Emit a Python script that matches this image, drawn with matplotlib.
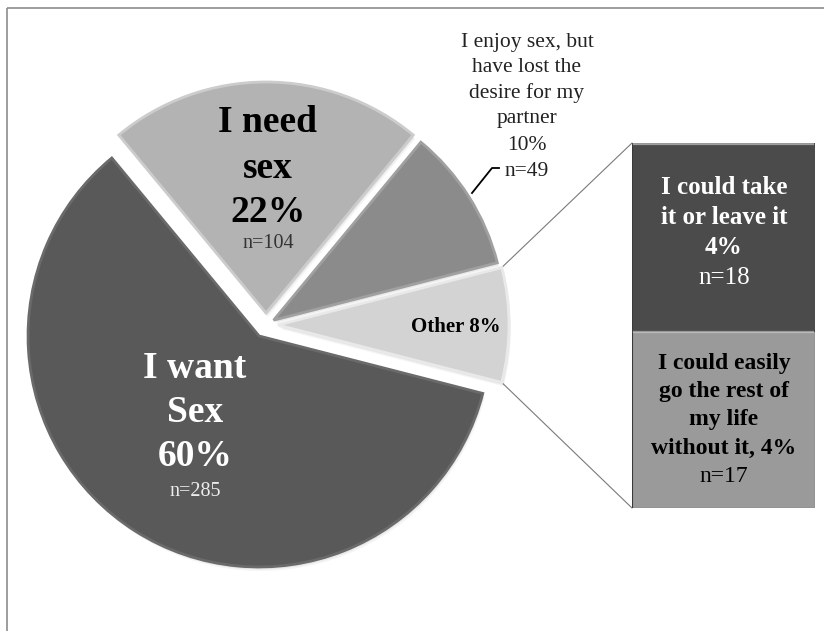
import numpy as np
import matplotlib
matplotlib.use("Agg")
import matplotlib.pyplot as plt
from matplotlib.patches import Wedge, ConnectionPatch

plt.rcParams['font.family'] = ['Liberation Serif', 'DejaVu Serif']

# survey answers (percent of respondents and counts)
slices = ["Other", "I want Sex", "I need sex", "I enjoy sex, but have lost the desire for my partner"]
shares = [8, 60, 22, 10]
counts = [35, 285, 104, 49]
slice_colors = ['#d3d3d3', '#595959', '#b3b3b3', '#8b8b8b']
edge_colors = ['#e9e9e9', '#6a6a6a', '#cccccc', '#a0a0a0']

# the "Other" slice split out into the bar
other_labels = ["I could easily go the rest of my life without it", "I could take it or leave it"]
other_pct = [4, 4]
other_n = [17, 18]
bar_colors = ['#9a9a9a', '#4b4b4b']

W, H = 824, 631
fig = plt.figure(figsize=(W / 100, H / 100), dpi=100)
ax = fig.add_axes([0, 0, 1, 1])
ax.set_zorder(2)


def py(y):
    # pixel row (top down) -> axis y
    return H - y


# outer chart border, only left and top edges fall inside the image
ax.plot([7, 7], [py(8), -10], color='#8c8c8c', lw=1.2, solid_capstyle='butt')
ax.plot([7, W + 10], [py(8), py(8)], color='#8c8c8c', lw=1.2, solid_capstyle='butt')

explode = [12, 13, 12, 9]   # offsets in pixels
center = (266, py(325))
radius = 231

# soft shadow under the pie
start = 14.4
a = start
for frac, ex in zip(shares, explode):
    th1, th2 = a - frac * 3.6, a
    mid = np.deg2rad((th1 + th2) / 2)
    cx = center[0] + ex * np.cos(mid)
    cy = center[1] + ex * np.sin(mid)
    for k, al in [(4, 0.04), (2.5, 0.05), (1.2, 0.06)]:
        ax.add_patch(Wedge((cx + k * 0.5, cy - k), radius, th1, th2,
                           color='black', alpha=al, lw=0))
    a = th1

wedges, _ = ax.pie(shares, explode=explode, colors=slice_colors,
                   startangle=start, counterclock=False,
                   radius=radius, center=center,
                   wedgeprops=dict(linewidth=2.0))
for w, ec in zip(wedges, edge_colors):
    w.set_edgecolor(ec)

ax.set_xlim(0, W)
ax.set_ylim(0, H)
ax.set_aspect('equal')
ax.axis('off')


def stack(x, ys, lines, **kw):
    for y, s in zip(ys, lines):
        ax.text(x, py(y), s, ha='center', va='center', **kw)


# I want Sex
stack(195, [368, 413, 456], ["I want", "Sex", f"{shares[1]}%"],
      fontsize=27, fontweight='bold', color='white')
stack(195, [491], [f"n={counts[1]}"], fontsize=14.5, color='#ececec')

# I need sex
stack(268, [122, 168, 212], ["I need", "sex", f"{shares[2]}%"],
      fontsize=27, fontweight='bold', color='black')
stack(268, [243], [f"n={counts[2]}"], fontsize=14.5, color='#333333')

# I enjoy sex ... label sits outside the pie with a leader line
stack(527, [42, 67, 93, 118, 146, 171],
      ["I enjoy sex, but", "have lost the", "desire for my", "partner",
       f"{shares[3]}%", f"n={counts[3]}"],
      fontsize=15.5, color='#222222')
ax.plot([472, 492, 499], [py(193), py(168), py(168)], color='black', lw=1.3)

# Other
ax.text(456, py(327), f"Other {shares[0]}%", ha='center', va='center',
        fontsize=15, fontweight='bold', color='black')

# stacked bar for the Other slice
bx = fig.add_axes([632 / W, py(508) / H, 183 / W, 365 / H])
bx.set_zorder(1)
bottom = 0
for n, col in zip(other_n, bar_colors):
    bx.bar(0, n, bottom=bottom, width=1, color=col, edgecolor='#3a3a3a', lw=0.8)
    bx.plot([-0.49, 0.49], [bottom + n - 0.12, bottom + n - 0.12],
            color='#d8d8d8', lw=1.6, alpha=0.6)
    bottom += n
bx.set_xlim(-0.5, 0.5)
bx.set_ylim(0, sum(other_n))
bx.axis('off')

stack(724, [187, 217, 248], ["I could take", "it or leave it", f"{other_pct[1]}%"],
      fontsize=18, fontweight='bold', color='white')
stack(724, [278], [f"n={other_n[1]}"], fontsize=18, color='white')

stack(724, [363, 391, 419, 448],
      ["I could easily", "go the rest of", "my life", f"without it, {other_pct[0]}%"],
      fontsize=17, fontweight='bold', color='black')
stack(724, [476], [f"n={other_n[0]}"], fontsize=17, color='black')

# lines from the Other slice to the bar corners
ow = wedges[0]
for ang, ycorner in [(ow.theta2, sum(other_n)), (ow.theta1, 0)]:
    xa = ow.center[0] + ow.r * np.cos(np.deg2rad(ang))
    ya = ow.center[1] + ow.r * np.sin(np.deg2rad(ang))
    con = ConnectionPatch(xyA=(xa, ya), coordsA=ax.transData,
                          xyB=(-0.5, ycorner), coordsB=bx.transData,
                          color='#7a7a7a', lw=0.8)
    fig.add_artist(con)

fig.savefig('out.png', dpi=100)
plt.close(fig)
